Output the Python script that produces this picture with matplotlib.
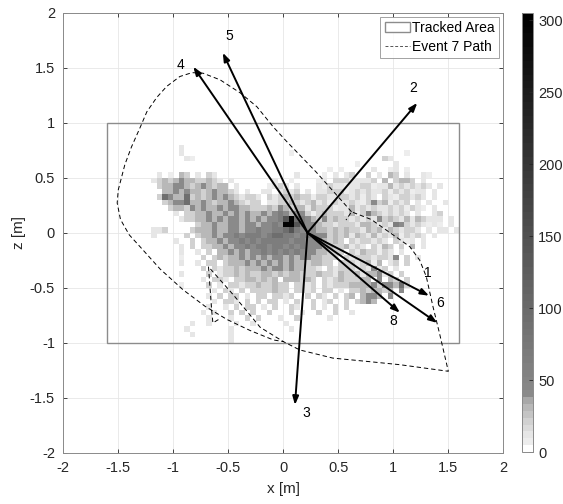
import numpy as np
import matplotlib.pyplot as plt
from matplotlib.colors import ListedColormap
from matplotlib.patches import Rectangle
from matplotlib.lines import Line2D

# occupancy counts on a 0.05 m grid, x from -1.20, z rows from 0.80 downwards
x_start, z_top, cell, n_cols = -1.20, 0.80, 0.05, 56
levels = {".": 0, "1": 6, "2": 13, "3": 22, "4": 30, "5": 42, "6": 65,
          "7": 95, "8": 140, "9": 190, "X": 300}
count_rows = [
    ".....2",
    ".....2...................1....................1",
    "......21..................................32",
    ".....................................1......2",
    "................................1.1.....2..12.1",
    ".2.1.43.2.32..............2....1.2.23..3.2.43.2..21",
    "2343454433432.2.......2..1....12.33322223.4.3443.2",
    ".3445543454344.2.....1232.2...213221223312242323232.2",
    "..44545443454432.2..22.2323.2.22333123232231323122.2",
    ".3754473434545432332.32343433133223323132.32133232.2",
    "..345574454344543233.22334323423132232135341323.2.2..2",
    "...34435454454554433343543442433312242323223231321.2",
    "....2.33445445454544545654553134333241364323232.2..23",
    ".....2334454545545454556" + "8X76" + "5435343323232534324243222.2..",
    "........3445445545545565" + "XX86" + "5543323332443232653232121.2.21",
    "223....34445445545565566" + "7865" + "554434343324342432332.2.22.22",
    "2.....3.3445455656665677" + "6656" + "6555343424324232413232.2.....",
    "....2..3.344545565656666" + "6566" + "5554343.3233232.3212.2......",
    ".....2.3.334454556566566565655544334232.3143.3.4.2",
    ".....2..2.3.44545455656565655544333.32433132.2",
    ".....1...3.34344545454554545544333.3233323325.3.2",
    ".....2..2.33.34445454545454434433.33323414.23.3",
    ".........3.32334344454554544332.32333232523.2",
    ".....2....3.23343433443434433343324334244523.3",
    ".........2.332.33443434.444343.323433344.5.43.3",
    ".....1....3.2.33233433433.3323.3233344445355473",
    "...........2.32.3.3333433.3323.33.2.33434434.5",
    "..........2.3.33.2.33.3323..3.32.3.34.4554.5",
    "...........2.332.3.3.33.2.3..3.23..3.3454",
    "..........2..2.3.33.2.3..32..3.2.3.3",
    ".........2.2..3.3.3..3...3.2..3..3..2",
    "..........2...2..3.3...2..3.....2",
    ".......2..2....2..2.....2",
    "......2.......2..........2",
    ".......2......2",
    "..............2",
]

# tracked area rectangle
area_x, area_z, area_w, area_h = -1.6, -1.0, 3.2, 2.0

# event 7 path, two pieces separated by nan
path_x = [-0.59, -0.64, -0.65, -0.68, -0.45, -0.21, 0.00, 0.15, 0.45, 0.76,
          1.06, 1.50, 1.42, 1.36, 1.30, 1.24, 1.15, 0.97, 0.80, 0.62, 0.57,
          np.nan,
          0.62, 0.30, 0.03, -0.09, -0.24, -0.39, -0.575, -0.73, -0.83, -0.94,
          -1.06, -1.15, -1.24, -1.30, -1.38, -1.44, -1.50, -1.51, -1.48,
          -1.40, -1.30, -1.12, -0.91, -0.71, -0.51, -0.30, -0.09, 0.00]
path_z = [-0.79, -0.82, -0.72, -0.31, -0.57, -0.86, -0.99, -1.066, -1.14,
          -1.17, -1.20, -1.26, -0.915, -0.67, -0.40, -0.25, -0.127, 0.00,
          0.12, 0.19, 0.115,
          np.nan,
          0.19, 0.55, 0.83, 0.96, 1.145, 1.27, 1.39, 1.45, 1.455, 1.42, 1.33,
          1.23, 1.10, 0.96, 0.78, 0.62, 0.39, 0.27, 0.12, -0.02, -0.13,
          -0.33, -0.52, -0.67, -0.79, -0.89, -0.975, -0.99]

# impact direction vectors from the common origin
origin = (0.22, 0.0)
arrow_ids = ["1", "2", "3", "4", "5", "6", "8"]
arrow_x = [1.325, 1.218, 0.106, -0.818, -0.55, 1.40, 1.06]
arrow_z = [-0.573, 1.18, -1.566, 1.509, 1.636, -0.82, -0.727]
label_x = [1.31, 1.18, 0.213, -0.93, -0.49, 1.43, 1.00]
label_z = [-0.37, 1.313, -1.64, 1.52, 1.79, -0.64, -0.80]

# colormap: light steps for low counts, then mid grey down to black
light = [1.0, 0.93, 0.90, 0.86, 0.82, 0.77, 0.72, 0.66]
ramp = np.linspace(0.54, 0.0, 56)
greys = np.concatenate([light, ramp])
cmap = ListedColormap(np.column_stack([greys, greys, greys]))

counts = np.array([[levels[ch] for ch in row.ljust(n_cols, ".")[:n_cols]]
                   for row in count_rows], float)
counts = np.ma.masked_equal(counts, 0)
n_rows = counts.shape[0]
x_edges = x_start + cell * np.arange(n_cols + 1)
z_edges = z_top - cell * np.arange(n_rows + 1)

plt.rcParams["font.family"] = "Liberation Sans"
fig = plt.figure(figsize=(5.63, 5.04), dpi=100)
ax = fig.add_axes([0.1124, 0.1018, 0.7816, 0.873])
cax = fig.add_axes([0.9266, 0.1030, 0.0206, 0.8716])

mesh = ax.pcolormesh(x_edges, z_edges, counts, cmap=cmap, vmin=0, vmax=305,
                     zorder=1)

ax.add_patch(Rectangle((area_x, area_z), area_w, area_h, fill=False,
                       edgecolor="#8c8c8c", lw=1.0, zorder=2))
ax.plot(path_x, path_z, color="black", lw=0.7, dashes=(4.5, 3), zorder=3)

for i, lab in enumerate(arrow_ids):
    ax.annotate("", xy=(arrow_x[i], arrow_z[i]), xytext=origin,
                arrowprops=dict(arrowstyle="-|>,head_length=0.5,head_width=0.18",
                                color="black", lw=1.4, shrinkA=0, shrinkB=0),
                zorder=4)
    ax.text(label_x[i], label_z[i], lab, fontsize=10, ha="center",
            va="center", color="black", zorder=5)

ax.set_xlim(-2, 2)
ax.set_ylim(-2, 2)
ax.set_xticks(np.arange(-2, 2.01, 0.5))
ax.set_yticks(np.arange(-2, 2.01, 0.5))
ax.set_xticklabels(["-2", "-1.5", "-1", "-0.5", "0", "0.5", "1", "1.5", "2"])
ax.set_yticklabels(["-2", "-1.5", "-1", "-0.5", "0", "0.5", "1", "1.5", "2"])
ax.grid(True, color="#e6e6e6", lw=0.6)
ax.set_axisbelow(True)
ax.tick_params(direction="in", length=3, top=True, right=True, pad=6,
               labelsize=10.5, colors="#262626", width=0.6)
for sp in ax.spines.values():
    sp.set_color("#8a8a8a")
    sp.set_linewidth(0.7)
ax.set_xlabel("x [m]", fontsize=11, color="#262626", labelpad=5)
ax.set_ylabel("z [m]", fontsize=11, color="#262626", labelpad=3)

handles = [Rectangle((0, 0), 1, 1, facecolor="white", edgecolor="#8c8c8c",
                     lw=1.0),
           Line2D([], [], color="#555555", lw=0.7, dashes=(3, 2))]
leg = ax.legend(handles, ["Tracked Area", "Event 7 Path"], loc="upper right",
                fontsize=10, frameon=True, fancybox=False, borderaxespad=0.3,
                handlelength=1.8, handletextpad=0.2, borderpad=0.3,
                labelspacing=0.35)
leg.get_frame().set_edgecolor("#8a8a8a")
leg.get_frame().set_linewidth(0.7)

cb = fig.colorbar(mesh, cax=cax, ticks=np.arange(0, 301, 50))
cb.ax.tick_params(direction="in", length=3, labelsize=10.5, colors="#262626",
                  width=0.6)
cb.outline.set_edgecolor("#8a8a8a")
cb.outline.set_linewidth(0.7)

fig.savefig("out.png", dpi=100)
